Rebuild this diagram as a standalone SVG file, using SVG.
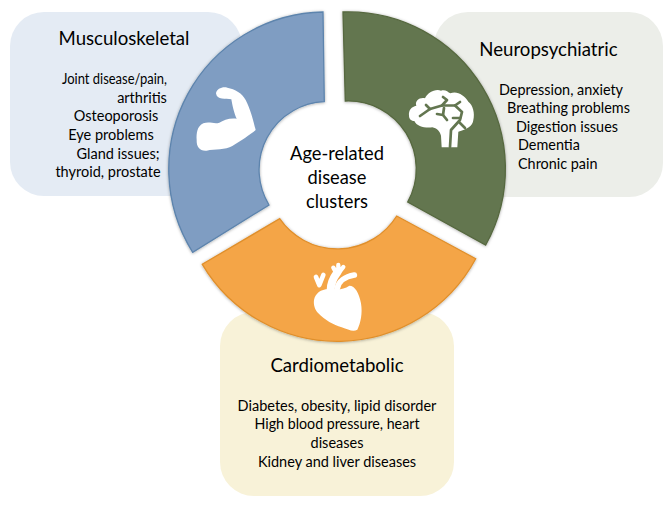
<svg xmlns="http://www.w3.org/2000/svg" width="671" height="507" viewBox="0 0 671 507">
<style>
text{font-family:Lato,"Open Sans","Liberation Sans",sans-serif;fill:#000}
.h{font-size:18.6px;text-anchor:middle}
.b{font-size:14.5px;text-anchor:middle}
.l{font-size:14.4px}
.c{font-size:18.3px;text-anchor:middle}
.sec{stroke-width:1.3;filter:url(#sh)}
.ic{fill:#fff;stroke:none}
.w{fill:none;stroke:#fff;stroke-linecap:round;stroke-linejoin:round}
.v{fill:none;stroke:#637650;stroke-width:2.7;stroke-linecap:round;stroke-linejoin:round}
</style>
<defs>
<filter id="sh" x="-10%" y="-10%" width="120%" height="120%"><feDropShadow dx="0" dy="0.5" stdDeviation="1.6" flood-color="#000" flood-opacity="0.35"/></filter>
</defs>
<rect width="671" height="507" fill="#fff"/>
<g id="panel-musculoskeletal">
<rect x="10" y="12" width="232" height="184" rx="34" fill="#e4ebf4"/>
<text class="h" x="124" y="45">Musculoskeletal</text>
<text class="b" x="114.500" y="84" textLength="105" lengthAdjust="spacingAndGlyphs">Joint disease/pain,</text>
<text class="b" x="142" y="103">arthritis</text>
<text class="b" x="116" y="121">Osteoporosis</text>
<text class="b" x="111" y="140">Eye problems</text>
<text class="b" x="118" y="159">Gland issues;</text>
<text class="b" x="108" y="177">thyroid, prostate</text>
</g>
<g id="panel-neuropsychiatric">
<rect x="434" y="12" width="229" height="185" rx="34" fill="#eceee9"/>
<text class="h" x="548.500" y="56">Neuropsychiatric</text>
<text class="l" x="499" y="95">Depression, anxiety</text>
<text class="l" x="507" y="113">Breathing problems</text>
<text class="l" x="516" y="132">Digestion issues</text>
<text class="l" x="518" y="150">Dementia</text>
<text class="l" x="518" y="169">Chronic pain</text>
</g>
<g id="panel-cardiometabolic">
<rect x="220" y="312" width="234" height="184" rx="34" fill="#f8f2d8"/>
<text class="h" x="337" y="372">Cardiometabolic</text>
<text class="b" x="337" y="411">Diabetes, obesity, lipid disorder</text>
<text class="b" x="337" y="429" textLength="165" lengthAdjust="spacingAndGlyphs">High blood pressure, heart</text>
<text class="b" x="337" y="448">diseases</text>
<text class="b" x="337" y="467">Kidney and liver diseases</text>
</g>
<g id="sector-musculoskeletal">
<path class="sec" fill="#7f9dc2" stroke="#5d84ad" d="M323 12A157 157 0 0 0 192.700 252.300L269 205A68 68 0 0 1 324.300 101.700Z"/>
<path class="ic" transform="translate(190 80) scale(.3333)" d="M78 40C80 26 98 19 112 23C135 27 157 40 167 60C180 85 190 120 197 150C180 165 152 182 127 198C106 211 75 206 50 212C30 214 19 201 20 180C19 160 21 139 40 130C58 123 72 133 88 128C100 120 120 113 140 116C132 100 127 75 124 58C108 56 80 60 78 40Z"/>
</g>
<g id="sector-neuropsychiatric">
<path class="sec" fill="#637650" stroke="#56683f" d="M343 12A157 157 0 0 1 485.700 245L407.700 202A68 68 0 0 0 345.300 101Z"/>
<path class="ic" transform="translate(405 85) scale(.3333)" d="M12 92C10 75 20 65 34 62C28 48 45 36 60 40C66 25 90 10 108 17C120 12 128 20 136 25C155 16 178 30 190 50C204 60 210 85 205 105C204 122 185 134 160 140L157 187H110L108 152C105 138 95 130 82 127C60 130 35 124 28 108C20 108 12 102 12 92Z"/>
<g class="v">
<path d="M420 116L430 109L442 105.500L447 100L443 97"/>
<path d="M430 109L426 105"/>
<path d="M442 105.500H455L460 102"/>
<path d="M455 105.500L462 112L460 120L451 130L450 147"/>
<path d="M437 114L443 115L447 120"/>
<path d="M443 115L444 108"/>
<path d="M453 118H460"/>
<path d="M460 123L465 128"/>
</g>
</g>
<g id="sector-cardiometabolic">
<path class="sec" fill="#f4a546" stroke="#e08f2b" d="M202.300 264.300A157 157 0 0 0 475.700 258.700L396.700 216A70 70 0 0 1 279.700 218.700Z"/>
<path class="ic" transform="translate(300 255) scale(.3333)" d="M42 135C46 115 62 103 86 102C110 102 130 106 148 92C165 92 178 115 183 145C188 175 182 205 172 224C160 232 145 224 125 217C100 210 75 195 55 175C45 165 40 150 42 135Z"/>
<g class="w" transform="translate(300 255) scale(.3333)">
<path stroke-width="24" d="M92 105C92 85 100 68 112 52"/>
<path stroke-width="13" d="M100 38L108 52M115 30L115 50M130 36L116 54"/>
<path stroke-width="17" d="M112 100C115 80 135 65 163 60"/>
<path stroke-width="14" d="M48 66L58 90L70 60"/>
</g>
</g>
<g id="center-label">
<text class="c" x="337" y="160">Age-related</text>
<text class="c" x="337" y="184">disease</text>
<text class="c" x="337" y="208">clusters</text>
</g>
<g id="connectors"></g>
</svg>
